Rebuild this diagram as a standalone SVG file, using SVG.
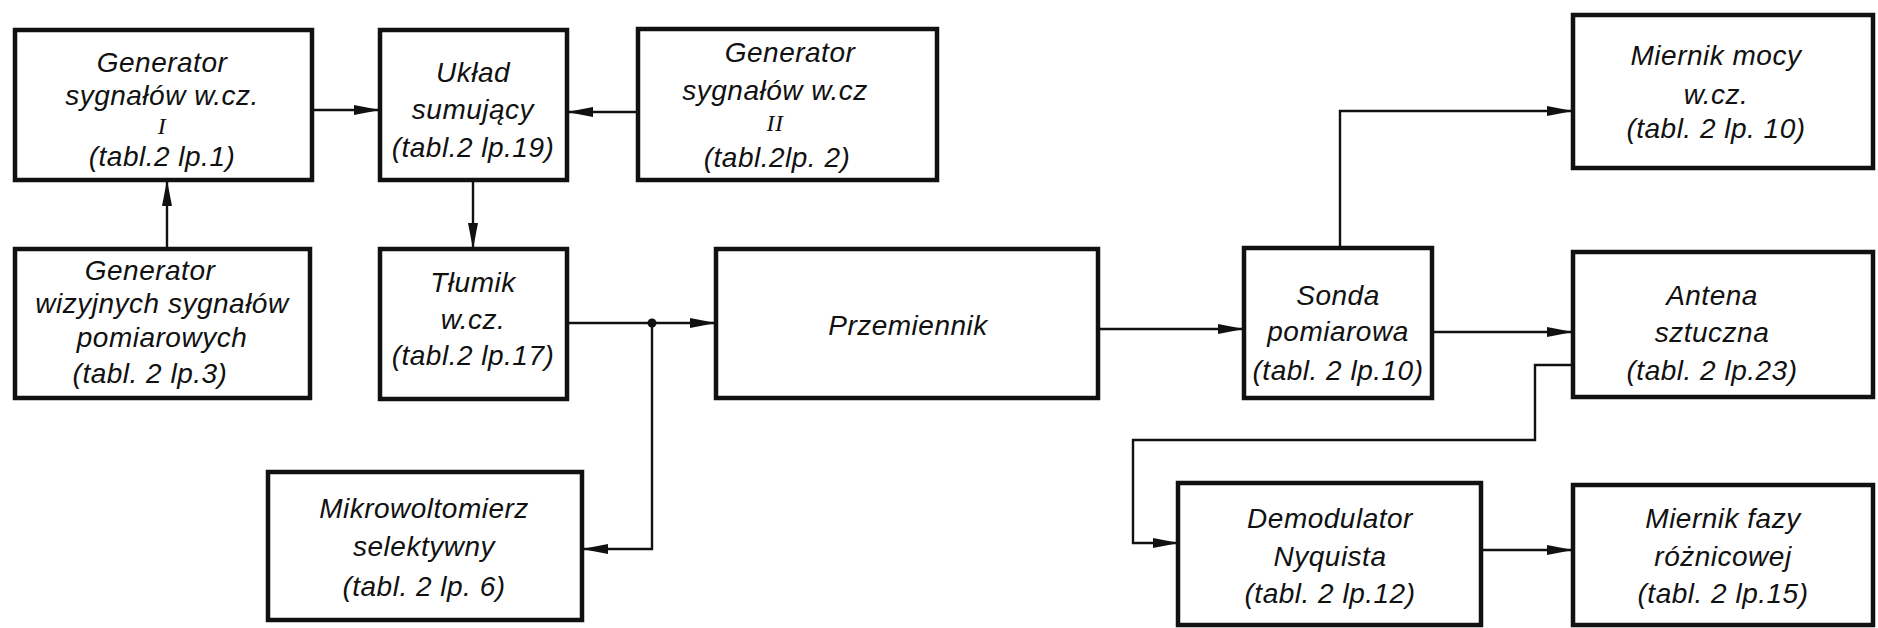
<svg xmlns="http://www.w3.org/2000/svg" width="1878" height="628" viewBox="0 0 1878 628">
<style>
.box{fill:#fff;stroke:#111;stroke-width:4.5}
.t{font-family:"Liberation Sans","DejaVu Sans",sans-serif;font-style:italic;font-size:28px;fill:#111;text-anchor:middle;dominant-baseline:central;letter-spacing:0.5px}
.r{font-family:"Liberation Serif","DejaVu Serif",serif;font-style:italic;font-size:24px}
.c{fill:none;stroke:#111;stroke-width:2.4}
</style>
<defs>
<marker id="ah" markerUnits="userSpaceOnUse" markerWidth="26" markerHeight="12" refX="26" refY="6" orient="auto">
<path d="M0,1 L26,6 L0,11 z" fill="#111"/>
</marker>
</defs>
<rect width="1878" height="628" fill="#fff"/>
<g id="connectors">
<path class="c" d="M311,110 H380" marker-end="url(#ah)"/>
<path class="c" d="M638,112 H567" marker-end="url(#ah)"/>
<path class="c" d="M167,249 V180" marker-end="url(#ah)"/>
<path class="c" d="M473,180 V249" marker-end="url(#ah)"/>
<path class="c" d="M567,323 H716" marker-end="url(#ah)"/>
<path class="c" d="M652,323 V549 H582" marker-end="url(#ah)"/>
<circle cx="652" cy="323" r="4.5" fill="#111"/>
<path class="c" d="M1098,329 H1244" marker-end="url(#ah)"/>
<path class="c" d="M1340,248 V111 H1573" marker-end="url(#ah)"/>
<path class="c" d="M1432,332 H1573" marker-end="url(#ah)"/>
<path class="c" d="M1573,365 H1535 V440 H1133 V543 H1179" marker-end="url(#ah)"/>
<path class="c" d="M1481,550 H1573" marker-end="url(#ah)"/>
</g>
<g id="gen1">
<rect class="box" x="15" y="30" width="297" height="150"/>
<text class="t" x="162" y="62">Generator</text>
<text class="t" x="162" y="95">sygnałów w.cz.</text>
<text class="t r" x="162" y="126">I</text>
<text class="t" x="162" y="156">(tabl.2  lp.1)</text>
</g>
<g id="uklad">
<rect class="box" x="380" y="30" width="187" height="150"/>
<text class="t" x="473" y="72">Układ</text>
<text class="t" x="473" y="109">sumujący</text>
<text class="t" x="473" y="147">(tabl.2 lp.19)</text>
</g>
<g id="gen2">
<rect class="box" x="638" y="29" width="299" height="151"/>
<text class="t" x="790" y="52">Generator</text>
<text class="t" x="775" y="90">sygnałów w.cz</text>
<text class="t r" x="775" y="123">II</text>
<text class="t" x="777" y="157">(tabl.2lp. 2)</text>
</g>
<g id="miernik-mocy">
<rect class="box" x="1573" y="15" width="300" height="153"/>
<text class="t" x="1716" y="55">Miernik mocy</text>
<text class="t" x="1716" y="94">w.cz.</text>
<text class="t" x="1716" y="128">(tabl. 2 lp. 10)</text>
</g>
<g id="gen-wiz">
<rect class="box" x="15" y="249" width="295" height="149"/>
<text class="t" x="150" y="270">Generator</text>
<text class="t" x="162" y="303">wizyjnych sygnałów</text>
<text class="t" x="162" y="337">pomiarowych</text>
<text class="t" x="150" y="373">(tabl. 2  lp.3)</text>
</g>
<g id="tlumik">
<rect class="box" x="380" y="249" width="187" height="150"/>
<text class="t" x="473" y="282">Tłumik</text>
<text class="t" x="473" y="319">w.cz.</text>
<text class="t" x="473" y="355">(tabl.2 lp.17)</text>
</g>
<g id="przemiennik">
<rect class="box" x="716" y="249" width="382" height="149"/>
<text class="t" x="908" y="325">Przemiennik</text>
</g>
<g id="sonda">
<rect class="box" x="1244" y="248" width="188" height="150"/>
<text class="t" x="1338" y="295">Sonda</text>
<text class="t" x="1338" y="331">pomiarowa</text>
<text class="t" x="1338" y="370">(tabl. 2 lp.10)</text>
</g>
<g id="antena">
<rect class="box" x="1573" y="252" width="300" height="145"/>
<text class="t" x="1712" y="295">Antena</text>
<text class="t" x="1712" y="332">sztuczna</text>
<text class="t" x="1712" y="370">(tabl. 2 lp.23)</text>
</g>
<g id="mikro">
<rect class="box" x="268" y="472" width="314" height="148"/>
<text class="t" x="424" y="508">Mikrowoltomierz</text>
<text class="t" x="424" y="546">selektywny</text>
<text class="t" x="424" y="586">(tabl. 2 lp. 6)</text>
</g>
<g id="demod">
<rect class="box" x="1178" y="483" width="303" height="142"/>
<text class="t" x="1330" y="518">Demodulator</text>
<text class="t" x="1330" y="556">Nyquista</text>
<text class="t" x="1330" y="593">(tabl. 2 lp.12)</text>
</g>
<g id="miernik-fazy">
<rect class="box" x="1573" y="485" width="300" height="140"/>
<text class="t" x="1723" y="518">Miernik fazy</text>
<text class="t" x="1723" y="556">różnicowej</text>
<text class="t" x="1723" y="593">(tabl. 2 lp.15)</text>
</g>
</svg>
